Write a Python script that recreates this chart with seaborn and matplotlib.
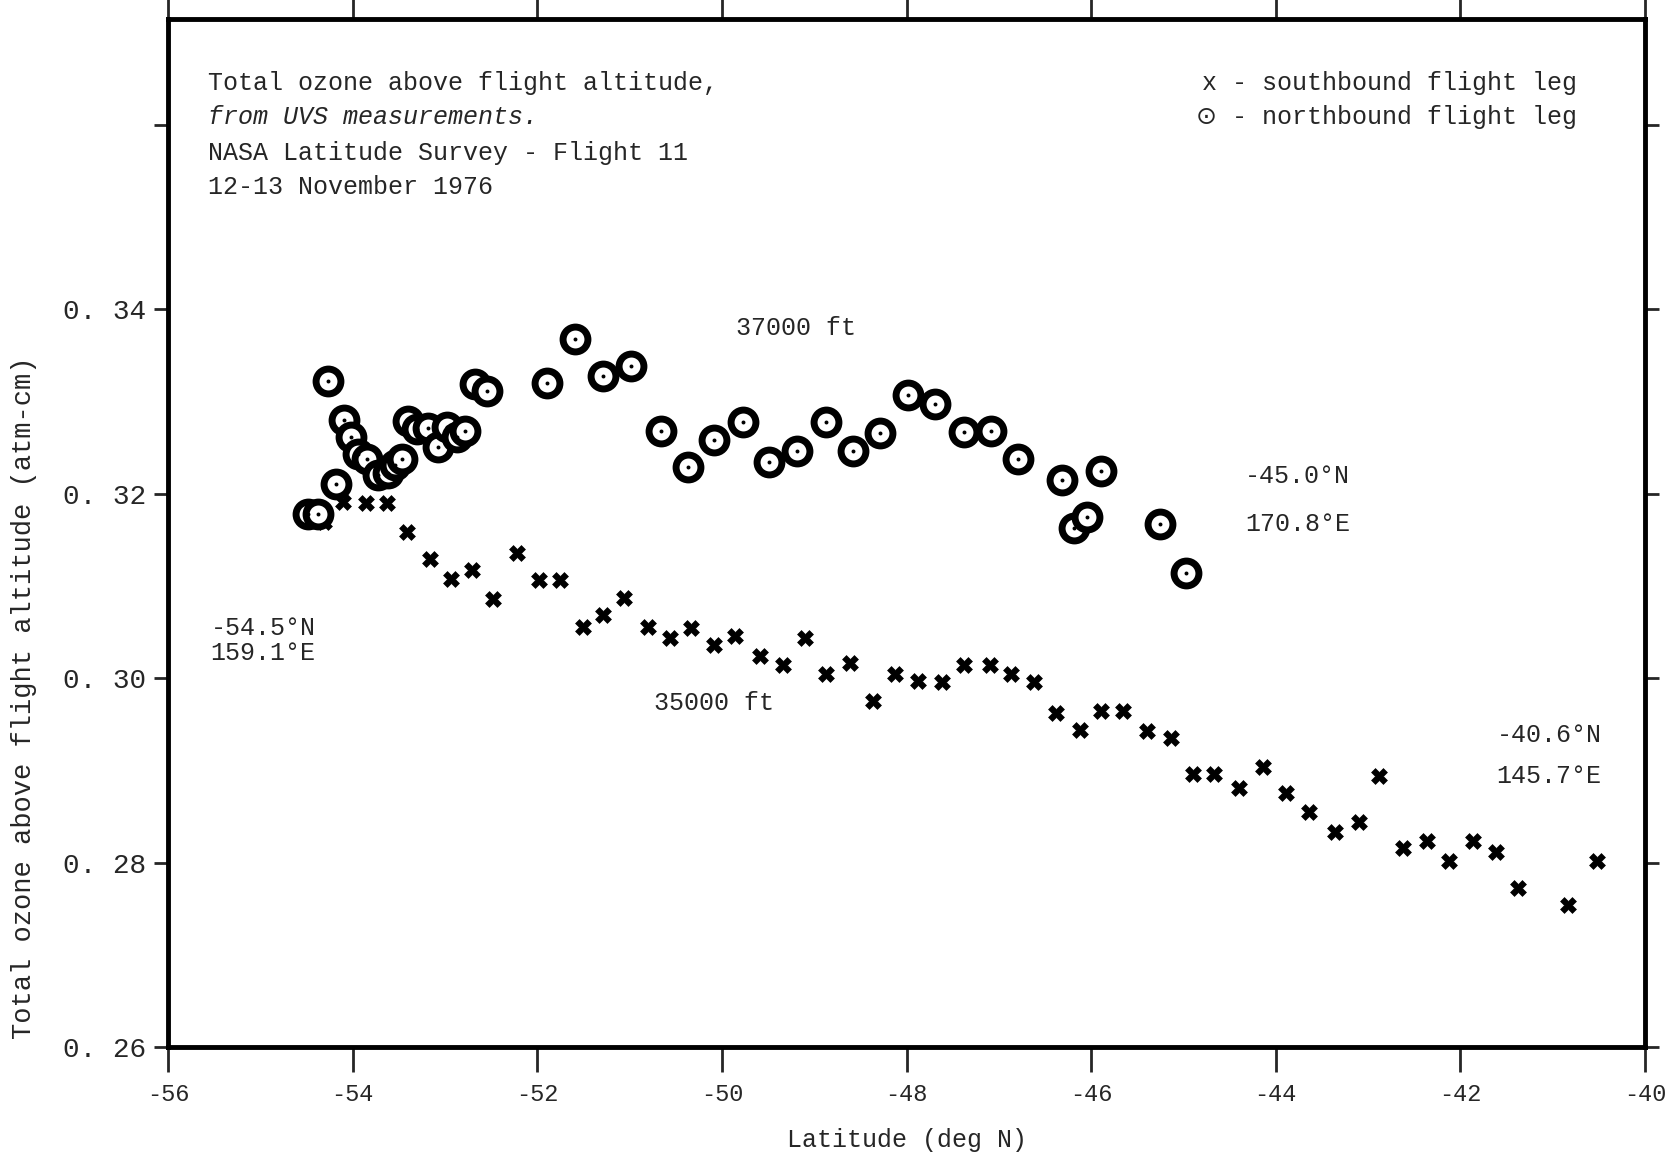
import numpy as np
import pandas as pd
import matplotlib
matplotlib.use('Agg')
import matplotlib.pyplot as plt
import seaborn as sns

# southbound flight leg (35000 ft), x markers
south_lat = [-54.31, -54.10, -53.86, -53.63, -53.41, -53.16, -52.94, -52.71, -52.48, -52.22,
             -51.98, -51.75, -51.51, -51.29, -51.06, -50.80, -50.56, -50.34, -50.09, -49.86,
             -49.59, -49.34, -49.10, -48.87, -48.61, -48.36, -48.12, -47.88, -47.62, -47.38,
             -47.10, -46.87, -46.62, -46.38, -46.12, -45.89, -45.65, -45.40, -45.13, -44.90,
             -44.67, -44.40, -44.14, -43.89, -43.64, -43.36, -43.10, -42.88, -42.62, -42.36,
             -42.12, -41.86, -41.61, -41.38, -40.83, -40.52]
south_o3 = [0.3169, 0.3191, 0.3190, 0.3190, 0.3159, 0.3129, 0.3108, 0.3117, 0.3086, 0.3136,
            0.3107, 0.3107, 0.3056, 0.3069, 0.3087, 0.3056, 0.3044, 0.3055, 0.3036, 0.3046,
            0.3024, 0.3014, 0.3044, 0.3005, 0.3016, 0.2975, 0.3005, 0.2997, 0.2996, 0.3014,
            0.3014, 0.3005, 0.2996, 0.2962, 0.2944, 0.2964, 0.2965, 0.2943, 0.2935, 0.2896,
            0.2896, 0.2881, 0.2904, 0.2876, 0.2855, 0.2833, 0.2844, 0.2894, 0.2816, 0.2823,
            0.2802, 0.2823, 0.2811, 0.2773, 0.2754, 0.2802]

# northbound flight leg (37000 ft), circled dots
north_lat = [-54.48, -54.38, -54.27, -54.18, -54.09, -54.02, -53.94, -53.85, -53.73, -53.62,
             -53.54, -53.47, -53.40, -53.30, -53.18, -53.08, -52.98, -52.87, -52.78, -52.68,
             -52.55, -51.89, -51.59, -51.29, -50.98, -50.66, -50.37, -50.09, -49.77, -49.49,
             -49.19, -48.87, -48.58, -48.29, -47.98, -47.69, -47.38, -47.08, -46.79, -46.32,
             -46.19, -46.05, -45.89, -45.25, -44.97]
north_o3 = [0.3178, 0.3178, 0.3322, 0.3211, 0.3280, 0.3262, 0.3243, 0.3238, 0.3220, 0.3223,
            0.3231, 0.3238, 0.3279, 0.3270, 0.3271, 0.3251, 0.3273, 0.3262, 0.3268, 0.3319,
            0.3311, 0.3320, 0.3368, 0.3328, 0.3339, 0.3268, 0.3229, 0.3258, 0.3278, 0.3235,
            0.3247, 0.3278, 0.3247, 0.3266, 0.3307, 0.3297, 0.3267, 0.3268, 0.3238, 0.3215,
            0.3163, 0.3175, 0.3225, 0.3167, 0.3114]

x_ticks = [-56, -54, -52, -50, -48, -46, -44, -42, -40]
y_ticks = [0.26, 0.28, 0.30, 0.32, 0.34]

sns.set_style('white')
plt.rcParams['font.family'] = ['Liberation Mono', 'DejaVu Sans']

south = pd.DataFrame({'lat': south_lat, 'o3': south_o3})
north = pd.DataFrame({'lat': north_lat, 'o3': north_o3})

fig = plt.figure(figsize=(16.67, 11.59), dpi=100)
ax = fig.add_axes([0.1008, 0.0966, 0.886, 0.887])

sns.scatterplot(data=south, x='lat', y='o3', marker='X', s=130, color='black',
                edgecolor='black', linewidth=0.5, ax=ax, zorder=3)
sns.scatterplot(data=north, x='lat', y='o3', marker='o', s=320, facecolor='white',
                edgecolor='black', linewidth=5, ax=ax, zorder=4)
sns.scatterplot(data=north, x='lat', y='o3', marker='o', s=8, color='black',
                linewidth=0, ax=ax, zorder=5)

ax.set_xlim(-56, -40)
ax.set_ylim(0.26, 0.3715)
ax.set_xticks(x_ticks)
ax.set_xticklabels([str(t) for t in x_ticks])
ax.set_yticks(y_ticks)
ax.set_yticklabels([f'{t:.2f}'.replace('.', '. ') for t in y_ticks])
ax.set_yticks([0.36], minor=True)

for sp in ax.spines.values():
    sp.set_linewidth(3.5)
    sp.set_color('black')

ax.tick_params(axis='x', which='major', direction='out', length=18, width=2,
               top=True, bottom=True, labelsize=17, pad=8)
ax.tick_params(axis='y', which='both', direction='out', length=10, width=2,
               left=True, right=True, labelsize=20, pad=6)

ax.set_xlabel('Latitude (deg N)', fontsize=18, labelpad=16)
ax.set_ylabel('Total ozone above flight altitude (atm-cm)', fontsize=19.5)
ax.yaxis.set_label_coords(-0.089, 0.34)

# text block, legend and annotations
kw = dict(transform=ax.transAxes, fontsize=18, va='center')
ax.text(0.0273, 0.938, 'Total ozone above flight altitude,', **kw)
ax.text(0.0273, 0.905, 'from UVS measurements.', style='italic', **kw)
ax.text(0.0273, 0.870, 'NASA Latitude Survey - Flight 11', **kw)
ax.text(0.0273, 0.837, '12-13 November 1976', **kw)

ax.text(0.954, 0.938, 'x - southbound flight leg', ha='right', **kw)
ax.text(0.954, 0.905, '\u2299 - northbound flight leg', ha='right', **kw)

ax.text(-49.85, 0.3380, '37000 ft', fontsize=18, va='center')
ax.text(-50.74, 0.2973, '35000 ft', fontsize=18, va='center')
ax.text(-55.54, 0.3054, '-54.5\u00b0N', fontsize=18, va='center')
ax.text(-55.54, 0.3027, '159.1\u00b0E', fontsize=18, va='center')
ax.text(-44.33, 0.3219, '-45.0\u00b0N', fontsize=18, va='center')
ax.text(-44.33, 0.3167, '170.8\u00b0E', fontsize=18, va='center')
ax.text(-41.61, 0.2938, '-40.6\u00b0N', fontsize=18, va='center')
ax.text(-41.61, 0.2894, '145.7\u00b0E', fontsize=18, va='center')

fig.savefig('out.png', dpi=100)
